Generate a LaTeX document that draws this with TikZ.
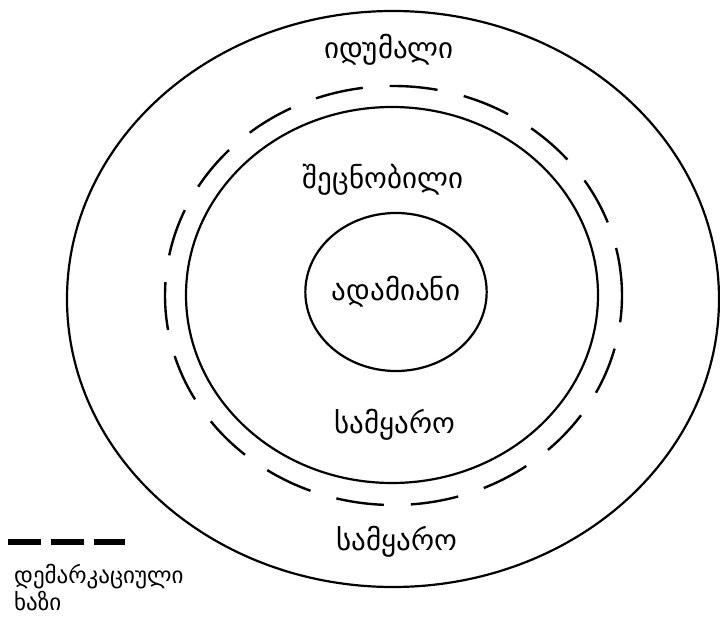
\documentclass[tikz,border=0pt]{standalone}
\usepackage{fontspec}
\usepackage{tikz}
\usetikzlibrary{shapes.geometric}
\newfontfamily\geofont{DejaVu Sans}

\begin{document}
\begin{tikzpicture}[x=1pt, y=-1pt, every node/.style={font=\geofont\fontsize{29}{32}\selectfont},
  ring/.style={line width=2.2pt},
  border/.style={line width=2.4pt, dash pattern=on 48pt off 27pt},
  legend dash/.style={line width=6pt, dash pattern=on 33pt off 10pt},
  legend text/.style={anchor=base west, inner sep=0pt, font=\geofont\fontsize{23}{26}\selectfont}]
  \useasboundingbox (0,0) rectangle (720,617);

  % rings
  \draw[ring] (393,299) ellipse [x radius=326pt, y radius=288pt];
  \draw[border] (393.5,295.5) ellipse [x radius=228.5pt, y radius=209.5pt];
  \draw[ring] (392,295) ellipse [x radius=206pt, y radius=188pt];
  \node[ring, draw, ellipse, inner sep=0pt, minimum width=172pt, minimum height=158pt] (adamiani) at (396,292) {ადამიანი};

  \node (idumali) at (389,50) {იდუმალი};
  \node (shecnobili) at (383,180) {შეცნობილი};
  \node (samqaro1) at (395,425) {სამყარო};
  \node (samqaro2) at (397,542) {სამყარო};

  % legend
  \coordinate (dashL) at (8,542);
  \coordinate (dashR) at (125,542);
  \draw[legend dash] (dashL) -- (dashR);
  \node[legend text] (legend1) at (14,583) {დემარკაციული};
  \node[legend text] (legend2) at (14,610) {ხაზი};
\end{tikzpicture}
\end{document}
